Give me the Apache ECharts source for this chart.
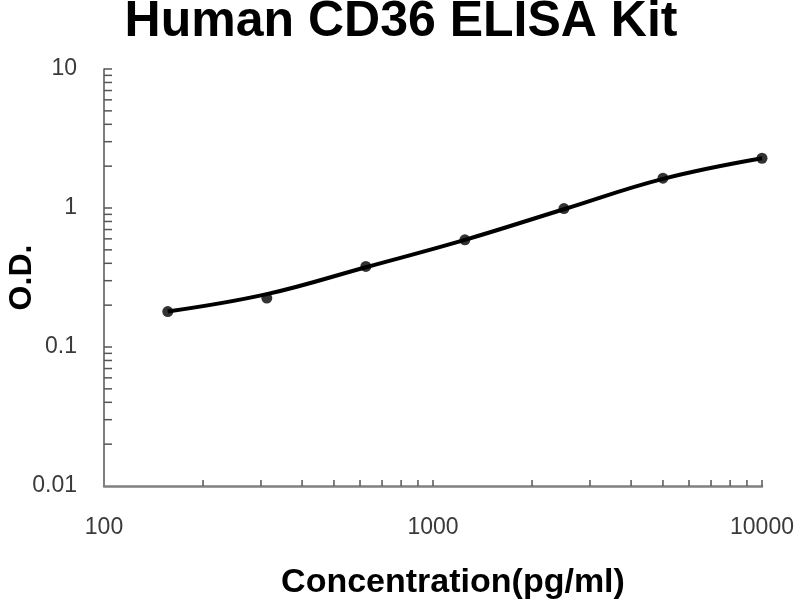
<!DOCTYPE html>
<html>
<head>
<meta charset="utf-8">
<script src="https://cdn.jsdelivr.net/npm/echarts@6/dist/echarts.min.js"></script>
<style>
    html, body { margin: 0; padding: 0; background: #fff; }
    #main { width: 800px; height: 600px; }
</style>
</head>
<body>
<div id="main"></div>
<script>
// 标准品浓度 (pg/ml)
var concentration = [156.25, 312.5, 625, 1250, 2500, 5000, 10000];
// 实测 O.D.
var odValues = [0.18, 0.225, 0.38, 0.59, 0.99, 1.64, 2.28];
// 拟合曲线 O.D.
var fitValues = [0.18, 0.24, 0.375, 0.59, 0.98, 1.62, 2.28];
// 对数坐标次刻度
var xMinorTicks = [200, 300, 400, 500, 600, 700, 800, 900, 1000, 2000, 3000, 4000, 5000, 6000, 7000, 8000, 9000, 10000];
var yMinorTicks = [0.02, 0.03, 0.04, 0.05, 0.06, 0.07, 0.08, 0.09, 0.1,
    0.2, 0.3, 0.4, 0.5, 0.6, 0.7, 0.8, 0.9, 1,
    2, 3, 4, 5, 6, 7, 8, 9, 10];

var chart = echarts.init(document.getElementById('main'));

function pairs(xs, ys) {
    var out = [];
    for (var i = 0; i < xs.length; i++) {
        out.push([xs[i], ys[i]]);
    }
    return out;
}

/**
 * 画刻度线 (custom series)
 */
function tickRender(dir) {
    return function (params, api) {
        var p;
        if (dir === 'x') {
            p = api.coord([api.value(0), 0.01]);
            return {
                type: 'line',
                shape: {x1: p[0], y1: p[1], x2: p[0], y2: p[1] - 6},
                style: {stroke: '#555', lineWidth: 1.5}
            };
        }
        p = api.coord([100, api.value(0)]);
        return {
            type: 'line',
            shape: {x1: p[0], y1: p[1], x2: p[0] + 8, y2: p[1]},
            style: {stroke: '#555', lineWidth: 1.5}
        };
    };
}

chart.setOption({
    animation: false,
    backgroundColor: '#fff',
    title: {
        text: 'Human CD36 ELISA Kit',
        left: 396,
        top: -8,
        textAlign: 'center',
        textStyle: {
            fontFamily: 'Liberation Sans',
            fontWeight: 'bold',
            fontSize: 50,
            color: '#000'
        }
    },
    grid: {
        left: 104,
        right: 38,
        top: 69,
        bottom: 114,
        containLabel: false,
        outerBoundsMode: 'none'
    },
    xAxis: {
        type: 'log',
        logBase: 10,
        min: 100,
        max: 10000,
        name: 'Concentration(pg/ml)',
        nameLocation: 'middle',
        nameGap: 80,
        nameMoveOverlap: false,
        nameTextStyle: {
            fontFamily: 'Liberation Sans',
            fontWeight: 'bold',
            fontSize: 34,
            color: '#000',
            padding: [0, 0, 0, 40]
        },
        axisLine: {lineStyle: {color: '#808080', width: 2.5}},
        axisTick: {show: false},
        splitLine: {show: false},
        axisLabel: {
            margin: 30,
            fontFamily: 'Liberation Sans',
            fontSize: 23,
            color: '#3a3a3a',
            formatter: function (v) {
                return String(Math.round(v));
            }
        }
    },
    yAxis: {
        type: 'log',
        logBase: 10,
        min: 0.01,
        max: 10,
        name: 'O.D.',
        nameLocation: 'middle',
        nameGap: 66,
        nameMoveOverlap: false,
        nameTextStyle: {
            fontFamily: 'Liberation Sans',
            fontWeight: 'bold',
            fontSize: 32,
            color: '#000'
        },
        axisLine: {lineStyle: {color: '#555', width: 1.5}},
        axisTick: {show: false},
        splitLine: {show: false},
        axisLabel: {
            margin: 27,
            fontFamily: 'Liberation Sans',
            fontSize: 23,
            color: '#3a3a3a',
            formatter: function (v) {
                return String(+v.toPrecision(3));
            }
        }
    },
    series: [
        {
            name: 'xTicks',
            type: 'custom',
            silent: true,
            renderItem: tickRender('x'),
            data: xMinorTicks.map(function (v) { return [v]; }),
            encode: {x: 0},
            clip: false
        },
        {
            name: 'yTicks',
            type: 'custom',
            silent: true,
            renderItem: tickRender('y'),
            data: yMinorTicks.map(function (v) { return [v]; }),
            encode: {y: 0},
            clip: false
        },
        {
            name: 'Fit',
            type: 'line',
            smooth: 0.4,
            showSymbol: false,
            lineStyle: {color: '#000', width: 4},
            data: pairs(concentration, fitValues)
        },
        {
            name: 'O.D.',
            type: 'scatter',
            symbol: 'circle',
            symbolSize: 11,
            itemStyle: {color: '#000'},
            data: pairs(concentration, odValues)
        }
    ]
});

window.onresize = function () {
    chart.resize();
}
</script>
</body>
</html>
